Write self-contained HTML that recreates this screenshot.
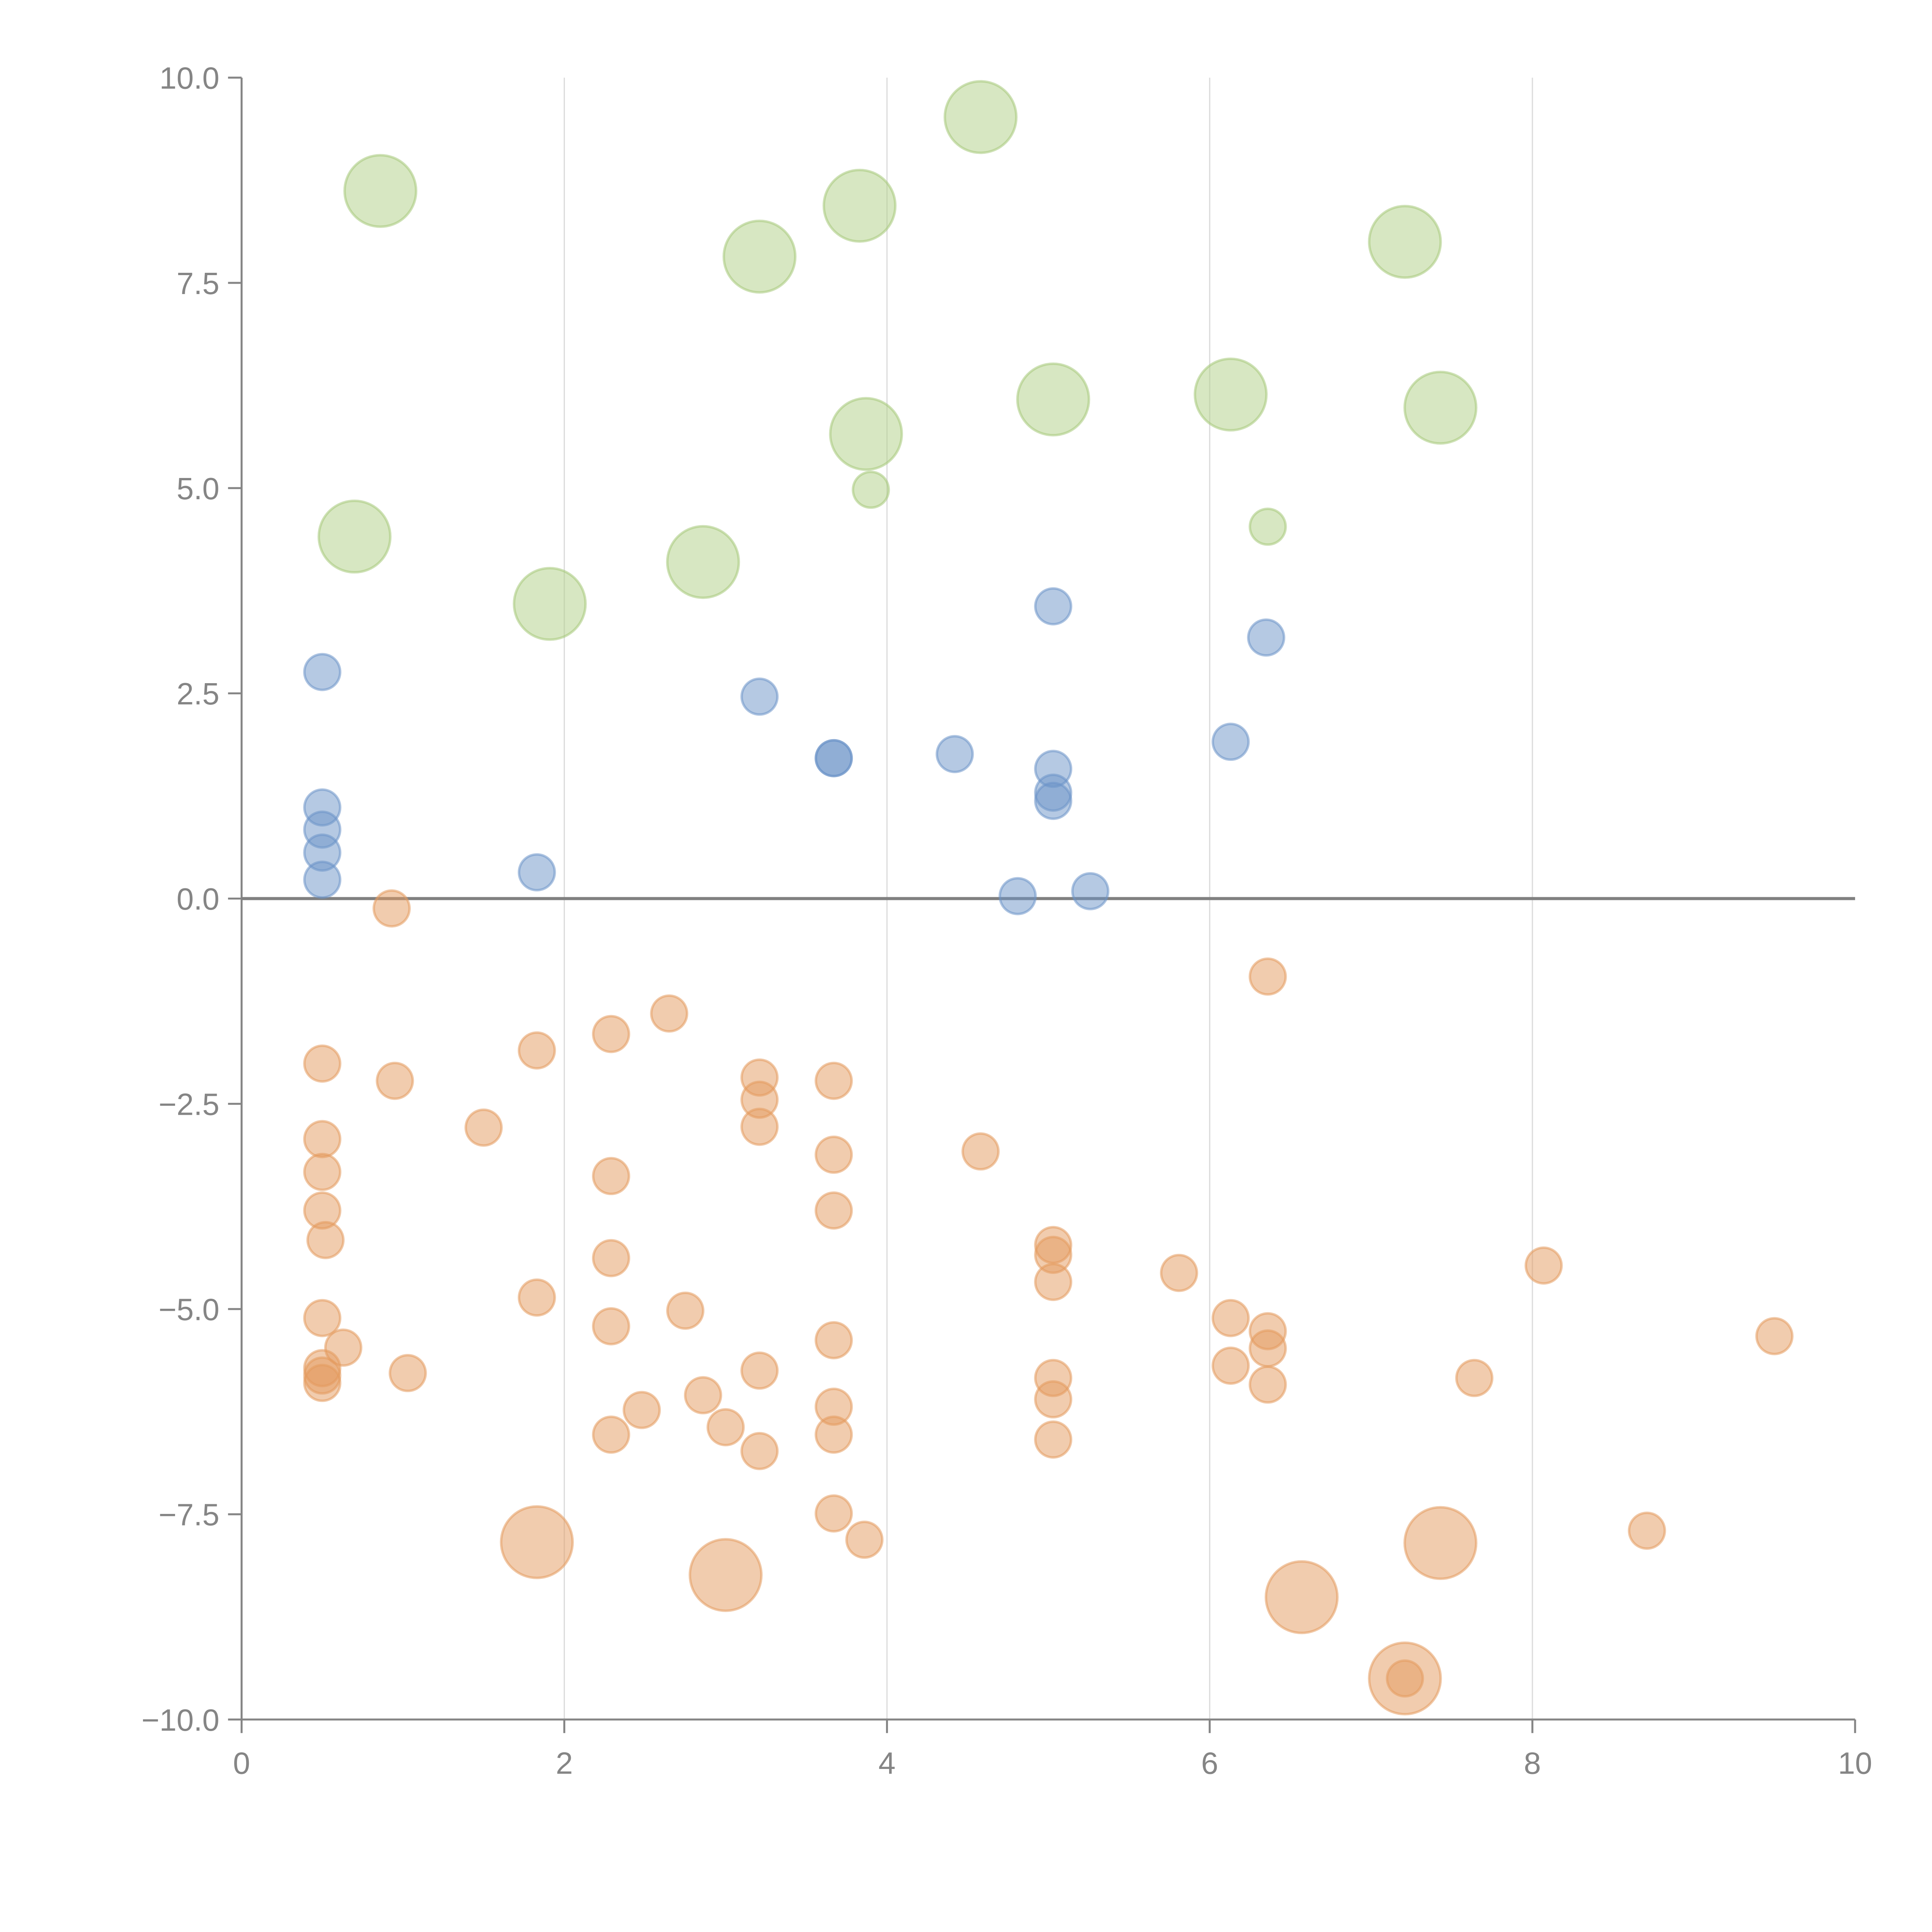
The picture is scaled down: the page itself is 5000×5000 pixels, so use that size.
<!DOCTYPE html>
<html><head><meta charset="utf-8"><style>
html,body{margin:0;padding:0;background:#fff;}
svg{display:block;}
text{font-family:"Liberation Sans",sans-serif;fill:#858585;}
</style></head>
<body>
<svg id="chart" width="5000" height="5000" viewBox="0 0 1567.4 1567.4" xmlns="http://www.w3.org/2000/svg">
<g id="grid"></g>
<g id="axes"></g>
<g id="marks"></g>
</svg>
<script>
const xTicks = [0, 2, 4, 6, 8, 10];
const xTickLabels = ["0", "2", "4", "6", "8", "10"];
const yTicks = [10, 7.5, 5, 2.5, 0, -2.5, -5, -7.5, -10];
const yTickLabels = ["10.0", "7.5", "5.0", "2.5", "0.0", "\u22122.5", "\u22125.0", "\u22127.5", "\u221210.0"];

const greenX = [0.86, 3.21, 3.83, 4.58, 7.21, 5.03, 6.13, 7.43, 3.87, 3.90, 0.70, 1.91, 2.86, 6.36];
const greenY = [8.62, 7.82, 8.44, 9.52, 8.0, 6.08, 6.14, 5.98, 5.66, 4.98, 4.41, 3.59, 4.10, 4.53];
const greenS = [2, 2, 2, 2, 2, 2, 2, 2, 2, 1, 2, 2, 2, 1];

const blueX = [0.50, 3.21, 3.67, 3.67, 4.42, 5.03, 6.35, 6.13, 5.03, 5.03, 5.03, 0.50, 0.50, 0.50, 0.50, 1.83, 4.81, 5.26];
const blueY = [2.76, 2.46, 1.71, 1.71, 1.76, 3.56, 3.18, 1.91, 1.58, 1.29, 1.19, 1.11, 0.84, 0.56, 0.23, 0.32, 0.03, 0.09];

const orangeX = [0.93, 6.36, 2.65, 2.29, 1.83, 0.50, 0.95, 3.21, 3.67, 3.21, 1.50, 3.21, 0.50, 4.58, 3.67, 2.29, 0.50, 3.67, 0.50, 0.52, 5.03, 5.03, 8.07, 5.81, 2.29, 5.03, 1.83, 2.75, 0.50, 6.13, 2.29, 6.36, 9.50, 3.67, 0.63, 6.36, 0.50, 6.13, 3.21, 1.03, 0.50, 7.64, 5.03, 0.50, 6.36, 2.86, 5.03, 2.48, 3.67, 3.00, 2.29, 3.67, 5.03, 3.21, 3.67, 3.86, 8.71, 1.83, 3.00, 7.43, 6.57, 7.21, 7.21];
const orangeY = [-0.12, -0.95, -1.40, -1.65, -1.85, -2.01, -2.22, -2.18, -2.22, -2.45, -2.79, -2.78, -2.93, -3.08, -3.12, -3.38, -3.33, -3.80, -3.80, -4.16, -4.22, -4.34, -4.47, -4.56, -4.38, -4.67, -4.86, -5.02, -5.11, -5.11, -5.21, -5.27, -5.33, -5.38, -5.47, -5.48, -5.72, -5.69, -5.75, -5.78, -5.81, -5.84, -5.84, -5.90, -5.92, -6.05, -6.10, -6.23, -6.19, -6.44, -6.53, -6.53, -6.59, -6.73, -7.49, -7.81, -7.70, -7.84, -8.24, -7.85, -8.51, -9.50, -9.50];
const orangeS = [1,1,1,1,1,1,1,1,1,1,1,1,1,1,1,1,1,1,1,1,1,1,1,1,1,1,1,1,1,1,1,1,1,1,1,1,1,1,1,1,1,1,1,1,1,1,1,1,1,1,1,1,1,1,1,1,1,2,2,2,2,2,1];

const X0 = 196, X1 = 1505, Y0 = 1395, Y1 = 63;
function sx(v){ return X0 + (v - 0) / 10 * (X1 - X0); }
function sy(v){ return Y0 - (v + 10) / 20 * (Y0 - Y1); }
function rad(s){ return s === 2 ? 29 : (s === 1 ? 14.5 : 14); }

const NS = "http://www.w3.org/2000/svg";
function mk(tag, attrs, parent){
  const e = document.createElementNS(NS, tag);
  for (const k in attrs) e.setAttribute(k, attrs[k]);
  parent.appendChild(e);
  return e;
}
const grid = document.getElementById('grid');
const axes = document.getElementById('axes');
const marks = document.getElementById('marks');

xTicks.forEach((t, i) => {
  if (t > 0 && t < 10) {
    const g = mk('line', {x1: sx(t), x2: sx(t), y1: Y1, y2: Y0, stroke: '#dcdcdc', 'stroke-width': 1}, grid);
    
    
  }
  const tk = mk('line', {x1: sx(t), x2: sx(t), y1: Y0, y2: Y0 + 11, stroke: '#858585', 'stroke-width': 1.6}, axes);
  
  
  const lb = mk('text', {x: sx(t), y: Y0 + 44, 'text-anchor': 'middle', 'font-size': 25}, axes);
  lb.textContent = xTickLabels[i];
  
  
});
yTicks.forEach((t, i) => {
  const tk = mk('line', {x1: X0 - 11, x2: X0, y1: sy(t), y2: sy(t), stroke: '#858585', 'stroke-width': 1.6}, axes);
  
  
  const lb = mk('text', {x: X0 - 18, y: sy(t) + 9, 'text-anchor': 'end', 'font-size': 25}, axes);
  lb.textContent = yTickLabels[i];
  
  
});
const ys = mk('line', {x1: X0, x2: X0, y1: Y1, y2: Y0, stroke: '#858585', 'stroke-width': 1.6}, axes);


const xs = mk('line', {x1: X0, x2: X1, y1: Y0, y2: Y0, stroke: '#858585', 'stroke-width': 1.6}, axes);


const zl = mk('line', {x1: X0, x2: X1, y1: sy(0), y2: sy(0), stroke: '#808080', 'stroke-width': 2.5}, axes);



function series(xa, ya, sa, fill, stroke, name){
  xa.forEach((x, i) => {
    const c = mk('circle', {cx: sx(x), cy: sy(ya[i]), r: rad(sa ? sa[i] : 1), fill: fill, 'fill-opacity': 0.5, stroke: stroke, 'stroke-opacity': 0.55, 'stroke-width': 2}, marks);
    
    
  });
}
series(greenX, greenY, greenS, '#b0cf85', '#a6c97a', 'green-bubble');
series(blueX, blueY, null, '#6b93c8', '#6b93c8', 'blue-bubble');
series(orangeX, orangeY, orangeS, '#e49a5e', '#e49a5e', 'orange-bubble');
</script>
</body></html>
